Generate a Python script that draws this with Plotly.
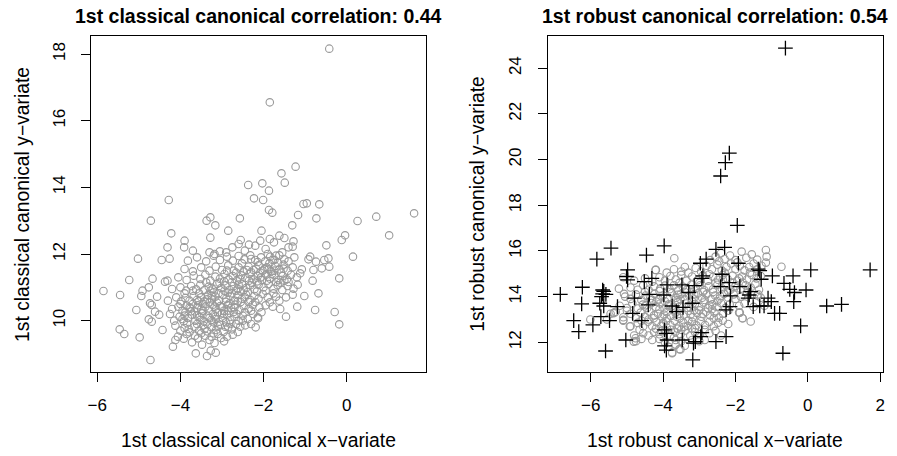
import plotly.graph_objects as go

# ---------------- data ----------------
classical_outer = [
    (-0.42, 18.16), (-1.85, 16.55), (-1.23, 14.62), (-1.57, 14.42), (-1.49, 14.14), (-2.37, 14.07),
    (-2.03, 14.12), (-1.87, 13.90), (-2.23, 13.67), (-2.01, 13.62), (-4.28, 13.62), (-1.04, 13.50),
    (-0.96, 13.52), (-0.66, 13.49), (-1.87, 13.32), (-1.79, 13.24), (-1.17, 13.17), (1.62, 13.22),
    (0.71, 13.12), (0.26, 12.99), (-0.73, 13.07), (-2.57, 13.07), (-3.28, 13.10), (-3.37, 13.00),
    (-4.71, 13.00), (-3.16, 12.86), (-1.31, 12.86), (1.02, 12.56), (-0.04, 12.56), (-0.12, 12.42),
    (-0.49, 12.26), (-4.22, 12.62), (-2.85, 12.70), (-2.05, 12.70), (-3.28, 12.49), (-3.90, 12.40),
    (-4.31, 12.20), (-3.91, 12.20), (0.15, 11.92), (-5.02, 11.86), (-4.26, 11.86), (-4.45, 11.82),
    (-5.23, 11.22), (-5.85, 10.89), (-5.45, 10.77), (-4.91, 10.90), (-4.76, 11.00), (-4.67, 11.26),
    (-4.37, 11.17), (-4.31, 11.20), (-4.94, 10.74), (-4.56, 10.72), (-5.06, 10.32), (-4.73, 10.52),
    (-4.69, 10.47), (-4.61, 10.27), (-4.51, 10.18), (-4.76, 10.04), (-4.69, 9.97), (-5.46, 9.74),
    (-5.35, 9.60), (-4.98, 9.50), (-4.43, 9.72), (-4.72, 8.82), (-3.63, 9.02), (-3.36, 8.94),
    (-3.15, 9.04), (-3.27, 9.10), (-4.18, 9.22), (-4.12, 9.42), (-0.18, 9.89), (-0.29, 10.26),
    (-0.76, 10.32), (-0.18, 11.27), (-0.68, 10.82), (-0.82, 11.20), (-1.02, 10.74), (-1.19, 10.42),
    (-1.46, 10.12), (-2.13, 10.07), (-2.19, 9.80), (-0.44, 11.87), (-0.54, 11.82), (-0.42, 11.62),
    (-0.60, 11.57), (-0.74, 11.77), (-0.92, 11.84), (-0.88, 11.92), (-0.80, 11.52), (-1.08, 11.54),
]

classical_core = [
    (-3.72, 9.35), (-3.48, 9.28), (-3.30, 9.42), (-3.18, 9.33), (-3.02, 9.48), (-2.88, 9.52), (-3.92, 9.46),
    (-4.06, 9.52), (-3.58, 9.47), (-2.74, 9.58), (-2.62, 9.66), (-3.40, 9.55), (-3.85, 9.60), (-2.95, 9.38),
    (-4.00, 9.70), (-3.90, 9.78), (-3.78, 9.65), (-3.66, 9.82), (-3.55, 9.70), (-3.45, 9.86), (-3.36, 9.68),
    (-3.25, 9.80), (-3.14, 9.72), (-3.05, 9.88), (-2.96, 9.66), (-2.85, 9.80), (-2.76, 9.74), (-2.66, 9.90),
    (-2.56, 9.82), (-2.44, 9.86), (-2.30, 9.90), (-3.60, 9.90), (-3.20, 9.62), (-2.90, 9.95), (-4.12, 9.85),
    (-3.84, 9.92),
    (-4.15, 10.00), (-4.02, 10.12), (-3.92, 9.98), (-3.82, 10.08), (-3.72, 10.18), (-3.64, 10.00), (-3.54, 10.10),
    (-3.44, 9.98), (-3.35, 10.15), (-3.26, 10.02), (-3.16, 10.12), (-3.07, 9.97), (-2.98, 10.08), (-2.88, 10.18),
    (-2.80, 10.02), (-2.70, 10.12), (-2.60, 10.00), (-2.50, 10.15), (-2.38, 10.05), (-2.25, 10.20), (-2.14, 10.10),
    (-3.48, 10.22), (-3.10, 10.25), (-2.72, 10.26), (-3.88, 10.25), (-4.25, 10.20),
    (-4.20, 10.35), (-4.05, 10.42), (-3.95, 10.30), (-3.85, 10.45), (-3.76, 10.36), (-3.66, 10.28), (-3.58, 10.46),
    (-3.50, 10.34), (-3.40, 10.42), (-3.32, 10.30), (-3.22, 10.48), (-3.14, 10.36), (-3.04, 10.44), (-2.95, 10.30),
    (-2.86, 10.46), (-2.78, 10.38), (-2.68, 10.48), (-2.58, 10.32), (-2.48, 10.44), (-2.36, 10.36), (-2.26, 10.48),
    (-2.10, 10.40), (-1.95, 10.46), (-1.78, 10.42), (-1.60, 10.35), (-3.70, 10.50), (-3.30, 10.55), (-2.90, 10.56),
    (-3.00, 10.22), (-2.45, 10.25),
    (-4.30, 10.60), (-4.10, 10.70), (-3.98, 10.58), (-3.88, 10.68), (-3.78, 10.60), (-3.68, 10.74), (-3.60, 10.62),
    (-3.50, 10.70), (-3.42, 10.58), (-3.34, 10.76), (-3.24, 10.64), (-3.16, 10.72), (-3.08, 10.60), (-2.98, 10.78),
    (-2.90, 10.66), (-2.80, 10.74), (-2.70, 10.60), (-2.62, 10.76), (-2.52, 10.66), (-2.42, 10.78), (-2.32, 10.62),
    (-2.22, 10.74), (-2.12, 10.66), (-2.02, 10.80), (-1.90, 10.70), (-1.76, 10.82), (-1.62, 10.60), (-1.46, 10.70),
    (-1.30, 10.78), (-3.90, 10.82), (-3.20, 10.85), (-2.55, 10.88),
    (-4.20, 10.95), (-4.00, 11.00), (-3.86, 10.90), (-3.74, 11.04), (-3.62, 10.94), (-3.52, 11.08), (-3.42, 10.92),
    (-3.32, 11.02), (-3.22, 10.96), (-3.12, 11.10), (-3.02, 10.98), (-2.92, 11.06), (-2.82, 10.92), (-2.72, 11.04),
    (-2.62, 10.96), (-2.52, 11.10), (-2.42, 10.98), (-2.32, 11.06), (-2.22, 10.94), (-2.12, 11.08), (-2.00, 11.00),
    (-1.88, 11.10), (-1.76, 10.96), (-1.66, 11.06), (-1.55, 10.92), (-1.42, 11.04), (-1.28, 10.96), (-1.18, 11.08),
    (-2.95, 11.18), (-2.35, 11.20),
    (-4.05, 11.30), (-3.85, 11.22), (-3.68, 11.35), (-3.52, 11.25), (-3.40, 11.38), (-3.28, 11.20), (-3.16, 11.32),
    (-3.05, 11.26), (-2.94, 11.40), (-2.84, 11.24), (-2.74, 11.34), (-2.64, 11.20), (-2.54, 11.36), (-2.44, 11.28),
    (-2.34, 11.40), (-2.24, 11.24), (-2.14, 11.34), (-2.04, 11.22), (-1.94, 11.38), (-1.84, 11.26), (-1.74, 11.36),
    (-1.64, 11.22), (-1.54, 11.34), (-1.44, 11.24), (-1.34, 11.38), (-1.20, 11.30), (-1.12, 11.42),
    (-3.90, 11.55), (-3.70, 11.48), (-3.50, 11.60), (-3.30, 11.50), (-3.15, 11.62), (-3.00, 11.52), (-2.85, 11.66),
    (-2.72, 11.50), (-2.60, 11.60), (-2.48, 11.48), (-2.36, 11.62), (-2.24, 11.52), (-2.12, 11.66), (-2.02, 11.50),
    (-1.92, 11.60), (-1.82, 11.48), (-1.72, 11.64), (-1.62, 11.54), (-1.52, 11.68), (-1.42, 11.50), (-1.30, 11.60),
    (-1.86, 11.72), (-1.66, 11.74),
    (-3.82, 11.80), (-3.60, 11.90), (-3.38, 11.78), (-3.20, 11.95), (-3.05, 11.82), (-2.88, 11.92), (-2.74, 11.80),
    (-2.60, 11.94), (-2.46, 11.84), (-2.32, 11.96), (-2.20, 11.82), (-2.06, 11.90), (-1.96, 11.78), (-1.84, 11.92),
    (-1.74, 11.82), (-1.62, 11.96), (-1.50, 11.84), (-1.40, 11.78), (-1.26, 11.90),
    (-3.70, 12.10), (-3.30, 12.05), (-3.18, 12.00), (-3.05, 12.08), (-2.75, 12.20), (-2.60, 12.30), (-2.55, 12.42),
    (-2.45, 12.10), (-2.35, 12.28), (-2.20, 12.25), (-2.08, 12.40), (-1.95, 12.15), (-1.85, 12.45), (-1.75, 12.35),
    (-1.62, 12.55), (-1.50, 12.48), (-1.40, 12.20), (-1.28, 12.38), (-1.30, 12.22), (-2.90, 12.05), (-1.55, 12.05),
]

classical_core_extra = [
    (-3.65, 9.55), (-3.25, 9.52), (-3.80, 9.75), (-3.50, 9.62), (-3.10, 9.85), (-2.80, 9.90), (-3.95, 10.05),
    (-3.60, 10.15), (-3.30, 10.08), (-2.95, 10.20), (-2.65, 10.20), (-2.30, 10.30), (-3.78, 10.40), (-3.45, 10.50),
    (-3.18, 10.42), (-2.82, 10.52), (-2.55, 10.56), (-2.20, 10.56), (-1.85, 10.55), (-3.55, 10.82), (-3.28, 10.90),
    (-2.86, 10.84), (-2.66, 10.90), (-2.38, 10.86), (-2.16, 10.88), (-1.95, 10.90), (-1.70, 10.72), (-3.38, 11.15),
    (-3.06, 11.14), (-2.76, 11.16), (-2.56, 11.24), (-2.15, 11.18), (-1.92, 11.20), (-1.60, 11.14), (-1.40, 11.16),
    (-2.88, 11.50), (-2.66, 11.44), (-2.30, 11.46), (-2.08, 11.44), (-1.88, 11.54), (-1.58, 11.44), (-1.78, 11.82),
    (-2.14, 11.76), (-2.52, 11.72), (-3.45, 10.30), (-3.10, 9.60), (-3.35, 9.90), (-2.50, 10.00), (-3.70, 10.90),
    (-4.00, 10.50), (-2.05, 10.25), (-1.70, 11.95), (-1.90, 12.00), (-2.30, 11.85), (-3.90, 10.15), (-3.00, 10.40),
    (-2.70, 10.40), (-3.60, 10.38), (-3.25, 10.75), (-2.45, 10.70),
    (-3.42, 9.75), (-3.20, 9.95), (-2.92, 9.82), (-3.52, 10.02), (-3.22, 10.20), (-2.86, 10.30), (-3.56, 10.58),
    (-3.36, 10.64), (-3.12, 10.54), (-2.94, 10.90), (-2.76, 10.82), (-3.08, 10.82), (-2.60, 11.08), (-2.28, 11.14),
    (-2.06, 11.30), (-1.80, 11.40), (-1.70, 11.16), (-1.98, 11.54), (-1.74, 11.50), (-2.18, 11.56), (-2.40, 11.52),
    (-1.50, 11.20), (-2.48, 10.92), (-3.15, 10.05), (-3.75, 10.28), (-2.62, 10.58), (-2.36, 10.56), (-1.52, 11.56),
]

robust_regular = [
    (-3.75, 11.55), (-3.55, 11.70), (-3.85, 11.80), (-3.65, 11.90), (-3.40, 11.85), (-3.95, 12.00), (-3.50, 12.05),
    (-3.20, 12.10), (-4.30, 12.10), (-4.10, 12.15), (-3.00, 12.05), (-2.85, 12.10), (-4.75, 12.05), (-4.60, 12.15),
    (-4.80, 12.30), (-4.55, 12.40), (-4.40, 12.30), (-4.25, 12.45), (-4.10, 12.35), (-3.95, 12.50), (-3.80, 12.30),
    (-3.66, 12.45), (-3.52, 12.35), (-3.38, 12.52), (-3.25, 12.30), (-3.12, 12.45), (-2.98, 12.35), (-2.85, 12.55),
    (-2.72, 12.40), (-2.55, 12.50), (-2.40, 12.30), (-4.65, 12.55), (-3.60, 12.60),
    (-5.10, 12.95), (-4.90, 12.70), (-4.70, 12.85), (-4.55, 12.70), (-4.42, 12.90), (-4.30, 12.70), (-4.18, 12.88),
    (-4.05, 12.72), (-3.92, 12.92), (-3.80, 12.76), (-3.68, 12.94), (-3.56, 12.70), (-3.44, 12.86), (-3.32, 12.72),
    (-3.20, 12.90), (-3.08, 12.74), (-2.96, 12.92), (-2.84, 12.76), (-2.72, 12.90), (-2.60, 12.70), (-2.48, 12.86),
    (-2.35, 12.95), (-2.20, 12.80), (-1.58, 12.91),
    (-5.35, 13.30), (-5.10, 13.10), (-4.90, 13.25), (-4.75, 13.05), (-4.62, 13.30), (-4.50, 13.12), (-4.38, 13.35),
    (-4.26, 13.05), (-4.14, 13.25), (-4.02, 13.10), (-3.90, 13.32), (-3.78, 13.15), (-3.66, 13.30), (-3.54, 13.05),
    (-3.42, 13.22), (-3.30, 13.38), (-3.18, 13.10), (-3.06, 13.28), (-2.94, 13.12), (-2.82, 13.34), (-2.70, 13.18),
    (-2.58, 13.30), (-2.46, 13.08), (-2.34, 13.25), (-2.20, 13.38), (-1.90, 13.30), (-1.80, 13.05), (-5.00, 13.38),
    (-5.20, 13.60), (-5.00, 13.50), (-4.85, 13.70), (-4.70, 13.48), (-4.56, 13.65), (-4.44, 13.50), (-4.32, 13.72),
    (-4.20, 13.55), (-4.08, 13.70), (-3.96, 13.48), (-3.84, 13.66), (-3.72, 13.52), (-3.60, 13.75), (-3.48, 13.58),
    (-3.36, 13.70), (-3.24, 13.50), (-3.12, 13.68), (-3.00, 13.56), (-2.88, 13.74), (-2.76, 13.50), (-2.64, 13.66),
    (-2.52, 13.55), (-2.40, 13.72), (-2.28, 13.50), (-2.16, 13.66), (-1.90, 13.60), (-1.75, 13.70), (-1.50, 13.55),
    (-1.20, 13.60),
    (-5.05, 14.00), (-4.90, 13.90), (-4.75, 14.10), (-4.60, 13.85), (-4.48, 14.05), (-4.36, 13.92), (-4.24, 14.12),
    (-4.12, 13.88), (-4.00, 14.05), (-3.88, 13.92), (-3.76, 14.15), (-3.64, 13.95), (-3.52, 14.10), (-3.40, 13.86),
    (-3.28, 14.05), (-3.16, 13.92), (-3.04, 14.14), (-2.92, 13.95), (-2.80, 14.10), (-2.68, 13.88), (-2.56, 14.05),
    (-2.44, 13.92), (-2.32, 14.12), (-2.20, 13.95), (-2.05, 14.10), (-1.85, 14.00), (-1.68, 14.15), (-1.40, 14.05),
    (-1.30, 13.95), (-1.37, 14.10),
    (-4.90, 14.40), (-4.70, 14.30), (-4.55, 14.50), (-4.40, 14.30), (-4.25, 14.45), (-4.10, 14.25), (-3.95, 14.48),
    (-3.82, 14.32), (-3.70, 14.50), (-3.58, 14.28), (-3.46, 14.44), (-3.34, 14.30), (-3.22, 14.52), (-3.10, 14.36),
    (-2.98, 14.50), (-2.86, 14.28), (-2.74, 14.45), (-2.62, 14.32), (-2.50, 14.52), (-2.38, 14.36), (-2.26, 14.50),
    (-2.14, 14.30), (-2.00, 14.46), (-1.86, 14.35), (-1.72, 14.50), (-1.58, 14.40), (-1.45, 14.55), (-1.35, 14.30),
    (-5.10, 14.85), (-4.80, 14.70), (-4.50, 14.80), (-4.30, 14.65), (-4.10, 14.85), (-3.95, 14.70), (-3.80, 14.90),
    (-3.65, 14.75), (-3.50, 14.95), (-3.35, 14.70), (-3.20, 14.88), (-3.05, 14.72), (-2.90, 14.92), (-2.76, 14.70),
    (-2.62, 14.86), (-2.48, 14.74), (-2.35, 14.95), (-2.22, 14.78), (-2.08, 14.92), (-1.95, 14.70), (-1.82, 14.88),
    (-1.68, 14.75), (-1.55, 14.95), (-1.42, 14.80), (-1.30, 14.90),
    (-4.20, 15.17), (-3.90, 15.05), (-3.70, 15.20), (-3.50, 15.10), (-3.30, 15.05), (-3.10, 15.25), (-2.95, 15.10),
    (-2.80, 15.35), (-2.65, 15.20), (-2.50, 15.40), (-2.38, 15.15), (-2.25, 15.30), (-2.12, 15.45), (-2.00, 15.20),
    (-1.88, 15.35), (-1.75, 15.15), (-1.62, 15.30), (-1.50, 15.45), (-1.40, 15.20), (-1.28, 15.35), (-1.16, 15.49),
    (-0.73, 15.31),
    (-3.69, 15.68), (-2.70, 15.60), (-2.55, 15.75), (-2.40, 15.90), (-2.30, 15.65), (-2.15, 15.80), (-2.00, 15.60),
    (-1.83, 15.97), (-1.70, 15.70), (-1.55, 15.85), (-1.40, 15.62), (-1.16, 16.04), (-1.14, 15.75),
    (-6.01, 13.00), (-5.22, 14.35), (-5.08, 14.12), (-5.37, 13.27), (-5.31, 13.34), (-5.10, 12.98), (-4.92, 12.69),
    (-4.76, 12.18), (-4.81, 12.03), (-4.21, 15.17), (-3.75, 11.52), (-3.52, 11.69), (-1.88, 13.30), (-1.81, 13.05),
    (-5.45, 13.25), (-5.55, 13.00),
]

robust_regular_extra = [
    (-4.20, 12.60), (-3.90, 12.65), (-3.50, 12.55), (-3.20, 12.60), (-3.70, 12.20), (-4.40, 13.00), (-4.10, 13.45),
    (-3.70, 13.40), (-3.35, 13.50), (-3.00, 13.40), (-2.65, 13.45), (-4.30, 13.85), (-3.95, 13.80), (-3.60, 13.85),
    (-3.20, 13.80), (-2.85, 13.85), (-2.50, 13.80), (-2.20, 14.25), (-2.90, 14.20), (-3.40, 14.20), (-3.80, 14.20),
    (-4.50, 14.20), (-3.00, 14.60), (-2.55, 14.62), (-2.10, 14.62), (-1.80, 14.62), (-1.60, 15.05), (-2.30, 15.05),
    (-3.55, 13.25), (-3.90, 13.05), (-4.60, 12.95), (-3.30, 12.95), (-2.60, 13.05), (-2.00, 13.90), (-1.65, 14.30),
    (-1.90, 14.80), (-2.45, 15.55), (-1.95, 15.50), (-3.40, 15.30), (-4.00, 12.85), (-3.65, 12.10),
    (-4.05, 12.50), (-3.78, 12.55), (-3.42, 12.68), (-3.12, 12.62), (-4.25, 13.18), (-3.98, 13.22), (-3.62, 13.12),
    (-3.24, 13.22), (-2.90, 13.25), (-4.48, 13.62), (-4.18, 13.78), (-3.85, 13.58), (-3.52, 13.88), (-3.14, 13.40),
    (-2.72, 13.62), (-2.42, 14.02), (-2.62, 14.20), (-3.14, 14.10), (-3.60, 14.08), (-4.08, 14.35), (-3.55, 14.60),
    (-2.35, 14.75), (-2.72, 14.98),
]

robust_outliers = [
    (-0.62, 24.88), (-2.17, 20.28), (-2.28, 19.87), (-2.41, 19.28), (-1.95, 17.12), (-3.97, 16.22), (-5.44, 16.12),
    (-5.83, 15.64), (-4.46, 15.82), (-2.54, 16.07), (-2.30, 16.16), (-1.92, 15.46), (1.72, 15.17), (0.08, 15.17),
    (-0.41, 14.91), (-0.98, 14.91), (-1.37, 15.20), (-1.33, 15.14), (-1.29, 14.76), (-4.98, 15.17), (-5.01, 14.88),
    (-4.98, 14.73), (-6.23, 14.41), (-6.84, 14.10), (-5.67, 14.29), (-5.67, 14.12), (-5.70, 14.00), (-5.58, 14.10),
    (-5.64, 14.23), (-6.25, 13.68), (-5.75, 13.71), (-5.64, 13.59), (-6.47, 12.95), (-6.33, 12.47), (-5.94, 12.76),
    (-5.72, 13.12), (-5.48, 12.95), (-5.59, 11.62), (-5.03, 12.10), (-5.26, 13.56), (-4.84, 13.27), (-4.79, 13.93),
    (-4.52, 14.66), (-4.31, 14.80), (-4.59, 12.95), (-4.38, 14.10), (-4.41, 13.64), (-3.98, 14.07), (-3.89, 14.51),
    (-3.75, 13.59), (-3.63, 13.34), (-3.45, 13.53), (-3.48, 14.51), (-3.14, 14.48), (-3.29, 14.18), (-3.19, 13.71),
    (-2.90, 14.91), (-2.93, 14.80), (-2.97, 15.46), (-2.81, 15.64), (-2.37, 14.98), (-2.41, 14.44), (-2.17, 14.61),
    (-2.14, 14.03), (-2.26, 13.42), (-2.15, 13.56), (-1.88, 14.44), (-1.62, 14.07), (-1.65, 13.93), (-1.58, 14.22),
    (-1.51, 13.56), (-1.33, 13.59), (-1.21, 13.59), (-1.10, 13.93), (-1.01, 13.78), (-0.92, 13.27), (-0.78, 13.27),
    (-0.66, 14.58), (-0.50, 14.32), (-0.37, 14.18), (-0.39, 13.78), (-0.05, 14.29), (0.52, 13.59), (0.93, 13.66),
    (-0.20, 12.72), (-0.69, 11.52), (-2.26, 12.25), (-2.54, 12.03), (-2.93, 12.42), (-2.96, 12.25), (-3.11, 12.03),
    (-3.16, 11.96), (-3.18, 11.23), (-3.47, 12.10), (-3.89, 12.10), (-3.91, 12.39), (-3.96, 12.54), (-3.91, 11.66),
    (-3.96, 11.84),
]

left_xticks = [-6, -4, -2, 0]
left_yticks = [10, 12, 14, 16, 18]
right_xticks = [-6, -4, -2, 0, 2]
right_yticks = [12, 14, 16, 18, 20, 22, 24]

titles = ["1st classical canonical correlation: 0.44", "1st robust canonical correlation: 0.54"]
xtitles = ["1st classical canonical x\u2212variate", "1st robust canonical x\u2212variate"]
ytitles = ["1st classical canonical y\u2212variate", "1st robust canonical y\u2212variate"]

# ---------------- figure ----------------
FONT = "Liberation Sans, Arial, Helvetica, sans-serif"
GREY = "#9a9a9a"
W, H = 897, 456

left_pts = classical_core + classical_core_extra + classical_outer
right_pts = robust_regular + robust_regular_extra
circle = dict(symbol="circle-open", size=7.5, color=GREY, line=dict(width=1.1, color=GREY))

fig = go.Figure()
fig.add_trace(go.Scatter(
    x=[p[0] for p in left_pts], y=[p[1] for p in left_pts], mode="markers", marker=circle,
    xaxis="x", yaxis="y", showlegend=False, hoverinfo="x+y"))
fig.add_trace(go.Scatter(
    x=[p[0] for p in right_pts], y=[p[1] for p in right_pts], mode="markers", marker=circle,
    xaxis="x2", yaxis="y2", showlegend=False, hoverinfo="x+y"))
fig.add_trace(go.Scatter(
    x=[p[0] for p in robust_outliers], y=[p[1] for p in robust_outliers], mode="markers",
    marker=dict(symbol="cross-thin-open", size=10.5, color="black", line=dict(width=1.3, color="black")),
    xaxis="x2", yaxis="y2", showlegend=False, hoverinfo="x+y"))

ydom = [1 - 372 / H, 1 - 36 / H]
left_dom = [88 / W, 425 / W]
right_dom = [547.3 / W, 884.7 / W]

axis_common = dict(showline=True, mirror=True, linecolor="black", linewidth=1, showgrid=False,
                   zeroline=False, ticks="outside", ticklen=9, tickwidth=1, tickcolor="black",
                   tickfont=dict(family=FONT, size=17, color="black"))

fig.update_layout(
    width=W, height=H, margin=dict(l=0, r=0, t=0, b=0),
    paper_bgcolor="white", plot_bgcolor="white",
    xaxis=dict(domain=left_dom, anchor="y", range=[-6.14, 1.91], tickvals=left_xticks,
               ticklabelstandoff=9, **axis_common),
    yaxis=dict(domain=ydom, anchor="x", range=[8.46, 18.54], tickvals=left_yticks,
               tickangle=-90, ticklabelstandoff=10, **axis_common),
    xaxis2=dict(domain=right_dom, anchor="y2", range=[-7.19, 2.07], tickvals=right_xticks,
                ticklabelstandoff=9, **axis_common),
    yaxis2=dict(domain=ydom, anchor="x2", range=[10.70, 25.41], tickvals=right_yticks,
                tickangle=-90, ticklabelstandoff=10, **axis_common),
)

ann = []
for i, dom in enumerate([left_dom, right_dom]):
    cx = (dom[0] + dom[1]) / 2
    ann.append(dict(text="<b>%s</b>" % titles[i], x=cx, y=1 - 16 / H, xref="paper", yref="paper",
                    showarrow=False, xanchor="center", yanchor="middle",
                    font=dict(family=FONT, size=19.5, color="black")))
    ann.append(dict(text=xtitles[i], x=cx, y=1 - 440 / H, xref="paper", yref="paper",
                    showarrow=False, xanchor="center", yanchor="middle",
                    font=dict(family=FONT, size=19.3, color="black")))
ann.append(dict(text=ytitles[0], x=18 / W, y=(ydom[0] + ydom[1]) / 2, xref="paper", yref="paper",
                showarrow=False, textangle=-90, xanchor="center", yanchor="middle",
                font=dict(family=FONT, size=19.3, color="black")))
ann.append(dict(text=ytitles[1], x=476 / W, y=(ydom[0] + ydom[1]) / 2, xref="paper", yref="paper",
                showarrow=False, textangle=-90, xanchor="center", yanchor="middle",
                font=dict(family=FONT, size=19.3, color="black")))
fig.update_layout(annotations=ann)

fig.write_html("out.html")
